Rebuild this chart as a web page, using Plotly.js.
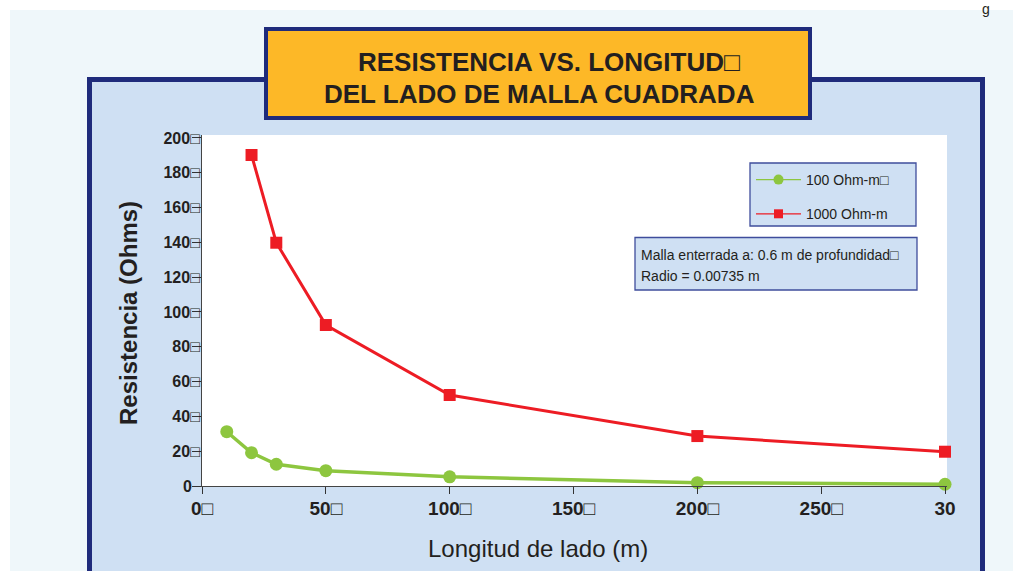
<!DOCTYPE html>
<html>
<head>
<meta charset="utf-8">
<script src="https://cdn.plot.ly/plotly-3.0.1.min.js"></script>
<style>
html,body{margin:0;padding:0;background:#ffffff;}
#chart{width:1013px;height:571px;}
</style>
</head>
<body>
<div id="chart"></div>
<script>
// ---- data ----
const lengths100 = [10, 20, 30, 50, 100, 200, 300];
const resist100  = [31.2, 19.1, 12.5, 8.8, 5.3, 1.9, 1.0];
const lengths1000 = [20, 30, 50, 100, 200, 300];
const resist1000  = [190.2, 139.8, 92.5, 52.3, 28.7, 19.7];
const seriesNames = ['100 Ohm-m\u25A1', '1000 Ohm-m'];
const xTickVals = [0, 50, 100, 150, 200, 250, 300];
const xTickText = ['0\u25A1', '50\u25A1', '100\u25A1', '150\u25A1', '200\u25A1', '250\u25A1', '30'];
const yTickVals = [0, 20, 40, 60, 80, 100, 120, 140, 160, 180, 200];
const yTickText = ['0\u2002', '20\u25A1', '40\u25A1', '60\u25A1', '80\u25A1', '100\u25A1', '120\u25A1', '140\u25A1', '160\u25A1', '180\u25A1', '200\u25A1'];
const titleLines = ['RESISTENCIA VS. LONGITUD\u25A1', 'DEL LADO DE MALLA CUADRADA'];
const xTitle = 'Longitud de lado (m)';
const yTitle = 'Resistencia (Ohms)';
const noteLines = ['Malla enterrada a: 0.6 m de profundidad\u25A1', 'Radio = 0.00735 m'];

// ---- layout helpers (pixel -> paper) ----
const L = 202, R = 947, T = 135, B = 486;
const W = R - L, H = B - T;
const px = x => (x - L) / W;
const py = y => (B - y) / H;

const GREEN = '#8dc63f', RED = '#ed1c24', NAVY = '#1f2b7b', PANEL = '#cfe0f3', INK = '#231f20';
const SANS = 'Liberation Sans, Arial, Helvetica, sans-serif';

const traces = [
  {x: lengths100, y: resist100, type: 'scatter', mode: 'lines+markers', name: seriesNames[0],
   showlegend: false, cliponaxis: false,
   line: {color: GREEN, width: 3.5}, marker: {color: GREEN, size: 13, symbol: 'circle'}},
  {x: lengths1000, y: resist1000, type: 'scatter', mode: 'lines+markers', name: seriesNames[1],
   showlegend: false, cliponaxis: false,
   line: {color: RED, width: 3}, marker: {color: RED, size: 12, symbol: 'square'}},
  // legend-only entries (no data drawn)
  {x: [null], y: [null], type: 'scatter', mode: 'lines+markers', name: seriesNames[0],
   legendgroup: 'a', line: {color: GREEN, width: 1.3}, marker: {color: GREEN, size: 10, symbol: 'circle'}},
  {x: [null], y: [null], type: 'scatter', mode: 'lines+markers', name: seriesNames[1],
   legendgroup: 'b', line: {color: RED, width: 1.3}, marker: {color: RED, size: 9, symbol: 'square'}}
];

const rect = (x0, y0, x1, y1, fill, lineColor, lw) => ({
  type: 'rect', xref: 'paper', yref: 'paper', layer: 'below',
  x0: px(x0), x1: px(x1), y0: py(y0), y1: py(y1),
  fillcolor: fill, line: {color: lineColor, width: lw}
});

const shapes = [
  rect(10, 10, 1030, 600, '#eff7fa', 'rgba(0,0,0,0)', 0),
  rect(89.5, 79.5, 982.5, 620, PANEL, NAVY, 5),
  rect(266, 29, 810, 118, '#fdb827', NAVY, 4),
  rect(L, T, R, B, '#ffffff', 'rgba(0,0,0,0)', 0),
  rect(750, 163, 916, 226, PANEL, '#3f4d9c', 1.3),
  rect(635, 237.5, 917, 290, PANEL, '#3f4d9c', 1.3)
];

const annotations = [
  {xref: 'paper', yref: 'paper', x: px(549), y: py(62), text: titleLines[0], showarrow: false,
   xanchor: 'center', yanchor: 'middle', font: {family: SANS, size: 26, weight: 700, color: INK}},
  {xref: 'paper', yref: 'paper', x: px(539), y: py(94), text: titleLines[1], showarrow: false,
   xanchor: 'center', yanchor: 'middle', font: {family: SANS, size: 26, weight: 700, color: INK}},
  {xref: 'paper', yref: 'paper', x: px(639), y: py(255), text: noteLines[0], showarrow: false,
   xanchor: 'left', yanchor: 'middle', font: {family: SANS, size: 14, color: INK}},
  {xref: 'paper', yref: 'paper', x: px(639), y: py(276), text: noteLines[1], showarrow: false,
   xanchor: 'left', yanchor: 'middle', font: {family: SANS, size: 14, color: INK}},
  {xref: 'paper', yref: 'paper', x: px(538), y: py(548), text: xTitle, showarrow: false,
   xanchor: 'center', yanchor: 'middle', font: {family: SANS, size: 24, color: INK}},
  {xref: 'paper', yref: 'paper', x: px(128), y: py(313), text: yTitle, showarrow: false, textangle: -90,
   xanchor: 'center', yanchor: 'middle', font: {family: SANS, size: 24, weight: 700, color: INK}},
  {xref: 'paper', yref: 'paper', x: px(986), y: py(0), text: 'g', showarrow: false,
   xanchor: 'center', yanchor: 'top', borderpad: 0, font: {family: SANS, size: 14, color: INK}}
];

const layout = {
  width: 1013, height: 571,
  margin: {l: L, r: 1013 - R, t: T, b: 571 - B, pad: 0},
  paper_bgcolor: '#ffffff',
  plot_bgcolor: 'rgba(0,0,0,0)',
  showlegend: true,
  legend: {x: px(751), y: py(164), xanchor: 'left', yanchor: 'top',
    bgcolor: 'rgba(0,0,0,0)', borderwidth: 0, itemwidth: 45,
    traceorder: 'grouped', tracegroupgap: 13,
    font: {family: SANS, size: 14, color: INK}},
  xaxis: {range: [0, 300.8], showgrid: false, zeroline: false, showline: true,
    linecolor: '#444', linewidth: 1, ticks: 'outside', ticklen: 7, tickcolor: '#333', tickwidth: 1,
    tickmode: 'array', tickvals: xTickVals, ticktext: xTickText, ticklabelstandoff: -2,
    tickfont: {family: SANS, size: 19, weight: 700, color: INK},
    automargin: false, fixedrange: true},
  yaxis: {range: [0, 201.7], showgrid: false, zeroline: false, showline: true,
    linecolor: '#444', linewidth: 1, ticks: 'outside', ticklen: 9, tickcolor: '#333', tickwidth: 1,
    tickmode: 'array', tickvals: yTickVals, ticktext: yTickText, ticklabelstandoff: -11,
    tickfont: {family: SANS, size: 16, weight: 700, color: INK},
    automargin: false, fixedrange: true},
  shapes: shapes,
  annotations: annotations
};

Plotly.newPlot('chart', traces, layout, {displayModeBar: false, staticPlot: true});
</script>
</body>
</html>
